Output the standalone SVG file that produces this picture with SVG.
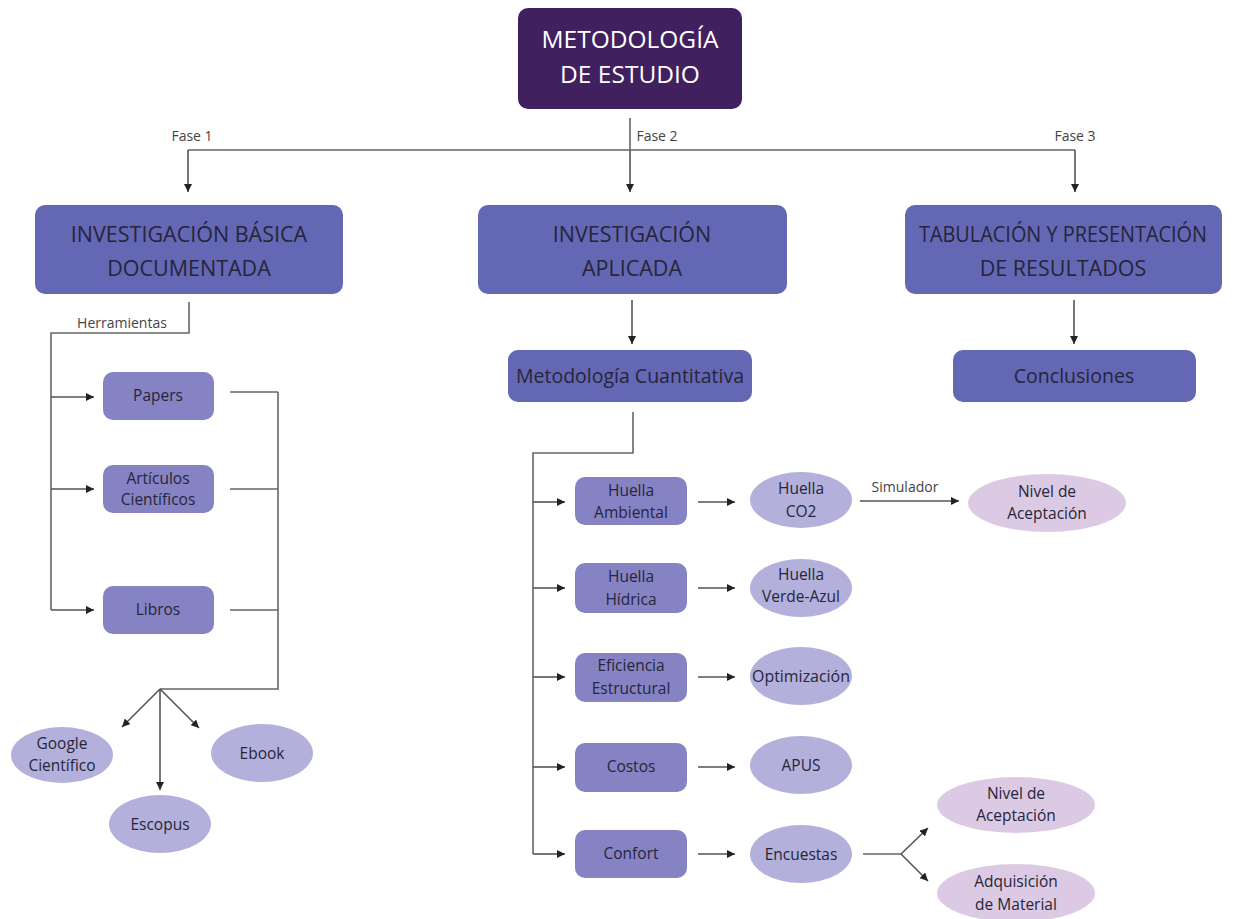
<svg xmlns="http://www.w3.org/2000/svg" width="1243" height="919" viewBox="0 0 1243 919">
<defs>
<marker id="ah" viewBox="0 0 10 10" refX="10" refY="5" markerWidth="8" markerHeight="8" markerUnits="userSpaceOnUse" orient="auto">
<path d="M0,0 L10,5 L0,10 z" fill="#222"/>
</marker>
</defs>
<style>
text{font-family:"Open Sans","Liberation Sans",sans-serif;text-anchor:middle;fill:#26253a}
.top{fill:#40205f}
.big{fill:#6467b3}
.small{fill:#8583c4}
.ell{fill:#b3b1db}
.pink{fill:#dccae4}
.tt{fill:#fff;font-size:24.5px}
.bt{font-size:21.5px}
.mt{font-size:19.5px}
.st{font-size:15.5px}
.lbl{font-size:14px;fill:#444}
.c{fill:none;stroke:#666;stroke-width:1.6}
.a{fill:none;stroke:#555;stroke-width:1.6;marker-end:url(#ah)}
</style>
<rect width="1243" height="919" fill="#fff"/>

<g id="connectors">
<path class="c" d="M630,118 V150 M188,150 H1075"/>
<path class="a" d="M630,150 V192"/>
<path class="a" d="M188,150 V192"/>
<path class="a" d="M1075,150 V192"/>
<text class="lbl" x="192" y="141">Fase 1</text>
<text class="lbl" x="657" y="141">Fase 2</text>
<text class="lbl" x="1075" y="141">Fase 3</text>

<path class="c" d="M189,302 V333 H51 V610"/>
<text class="lbl" x="122" y="328">Herramientas</text>
<path class="a" d="M51,397 H94"/>
<path class="a" d="M51,489 H94"/>
<path class="a" d="M51,610 H94"/>
<path class="c" d="M230,392 H278 M230,489 H278 M230,610 H278 M278,392 V689 H160"/>
<path class="a" d="M160,689 L122,727"/>
<path class="a" d="M160,689 V790"/>
<path class="a" d="M160,689 L199,728"/>

<path class="a" d="M632,300 V344"/>
<path class="c" d="M633,412 V453 H533 V854"/>
<path class="a" d="M533,502 H565"/>
<path class="a" d="M533,588 H565"/>
<path class="a" d="M533,677 H565"/>
<path class="a" d="M533,767 H565"/>
<path class="a" d="M533,854 H565"/>
<path class="a" d="M698,502 H735"/>
<path class="a" d="M698,588 H735"/>
<path class="a" d="M698,677 H735"/>
<path class="a" d="M698,767 H735"/>
<path class="a" d="M698,854 H735"/>
<path class="a" d="M860,501 H959"/>
<text class="lbl" x="905" y="492">Simulador</text>
<path class="c" d="M863,854 H901"/>
<path class="a" d="M901,854 L928,828"/>
<path class="a" d="M901,854 L928,881"/>

<path class="a" d="M1074,300 V344"/>
</g>

<g id="n-metodologia">
<rect class="top" x="518" y="8" width="224" height="101" rx="10"/>
<text class="tt" x="630" y="48">METODOLOGÍA</text>
<text class="tt" x="630" y="83">DE ESTUDIO</text>
</g>

<g id="n-basica">
<rect class="big" x="35" y="205" width="308" height="89" rx="10"/>
<text class="bt" x="189" y="242">INVESTIGACIÓN BÁSICA</text>
<text class="bt" x="189" y="276">DOCUMENTADA</text>
</g>
<g id="n-aplicada">
<rect class="big" x="478" y="205" width="309" height="89" rx="10"/>
<text class="bt" x="632" y="242">INVESTIGACIÓN</text>
<text class="bt" x="632" y="276">APLICADA</text>
</g>
<g id="n-tabulacion">
<rect class="big" x="905" y="205" width="317" height="89" rx="10"/>
<text class="bt" x="1063" y="242" textLength="288" lengthAdjust="spacingAndGlyphs">TABULACIÓN Y PRESENTACIÓN</text>
<text class="bt" x="1063" y="276">DE RESULTADOS</text>
</g>

<g id="n-papers">
<rect class="small" x="103" y="372" width="111" height="48" rx="10"/>
<text class="st" x="158" y="401">Papers</text>
</g>
<g id="n-articulos">
<rect class="small" x="103" y="465" width="111" height="48" rx="10"/>
<text class="st" x="158" y="484">Artículos</text>
<text class="st" x="158" y="505">Científicos</text>
</g>
<g id="n-libros">
<rect class="small" x="103" y="586" width="111" height="48" rx="10"/>
<text class="st" x="158" y="615">Libros</text>
</g>

<g id="n-google">
<ellipse class="ell" cx="62" cy="755" rx="51" ry="28"/>
<text class="st" x="62" y="749">Google</text>
<text class="st" x="62" y="771">Científico</text>
</g>
<g id="n-ebook">
<ellipse class="ell" cx="262" cy="753" rx="51" ry="29"/>
<text class="st" x="262" y="759">Ebook</text>
</g>
<g id="n-escopus">
<ellipse class="ell" cx="160" cy="824" rx="51" ry="29"/>
<text class="st" x="160" y="830">Escopus</text>
</g>

<g id="n-cuantitativa">
<rect class="big" x="508" y="350" width="244" height="52" rx="10"/>
<text class="mt" x="630" y="383">Metodología Cuantitativa</text>
</g>

<g id="n-ambiental">
<rect class="small" x="575" y="477" width="112" height="48" rx="10"/>
<text class="st" x="631" y="496">Huella</text>
<text class="st" x="631" y="518">Ambiental</text>
</g>
<g id="n-hidrica">
<rect class="small" x="575" y="563" width="112" height="50" rx="10"/>
<text class="st" x="631" y="582">Huella</text>
<text class="st" x="631" y="605">Hídrica</text>
</g>
<g id="n-eficiencia">
<rect class="small" x="575" y="653" width="112" height="49" rx="10"/>
<text class="st" x="631" y="671">Eficiencia</text>
<text class="st" x="631" y="694">Estructural</text>
</g>
<g id="n-costos">
<rect class="small" x="575" y="743" width="112" height="49" rx="10"/>
<text class="st" x="631" y="772">Costos</text>
</g>
<g id="n-confort">
<rect class="small" x="575" y="830" width="112" height="48" rx="10"/>
<text class="st" x="631" y="859">Confort</text>
</g>

<g id="n-co2">
<ellipse class="ell" cx="801" cy="500" rx="51" ry="28"/>
<text class="st" x="801" y="494">Huella</text>
<text class="st" x="801" y="517">CO2</text>
</g>
<g id="n-verdeazul">
<ellipse class="ell" cx="801" cy="588" rx="51" ry="29"/>
<text class="st" x="801" y="580">Huella</text>
<text class="st" x="801" y="602">Verde-Azul</text>
</g>
<g id="n-optimizacion">
<ellipse class="ell" cx="801" cy="676" rx="51" ry="29"/>
<text class="st" x="801" y="682" textLength="98" lengthAdjust="spacingAndGlyphs">Optimización</text>
</g>
<g id="n-apus">
<ellipse class="ell" cx="801" cy="765" rx="51" ry="29"/>
<text class="st" x="801" y="771">APUS</text>
</g>
<g id="n-encuestas">
<ellipse class="ell" cx="801" cy="854" rx="51" ry="29"/>
<text class="st" x="801" y="860">Encuestas</text>
</g>

<g id="n-nivel1">
<ellipse class="pink" cx="1047" cy="503" rx="79" ry="29"/>
<text class="st" x="1047" y="497">Nivel de</text>
<text class="st" x="1047" y="519">Aceptación</text>
</g>
<g id="n-nivel2">
<ellipse class="pink" cx="1016" cy="805" rx="79" ry="28"/>
<text class="st" x="1016" y="799">Nivel de</text>
<text class="st" x="1016" y="821">Aceptación</text>
</g>
<g id="n-adquisicion">
<ellipse class="pink" cx="1016" cy="893" rx="79" ry="29"/>
<text class="st" x="1016" y="887">Adquisición</text>
<text class="st" x="1016" y="910">de Material</text>
</g>

<g id="n-conclusiones">
<rect class="big" x="953" y="350" width="243" height="52" rx="10"/>
<text class="mt" x="1074" y="383">Conclusiones</text>
</g>
</svg>
